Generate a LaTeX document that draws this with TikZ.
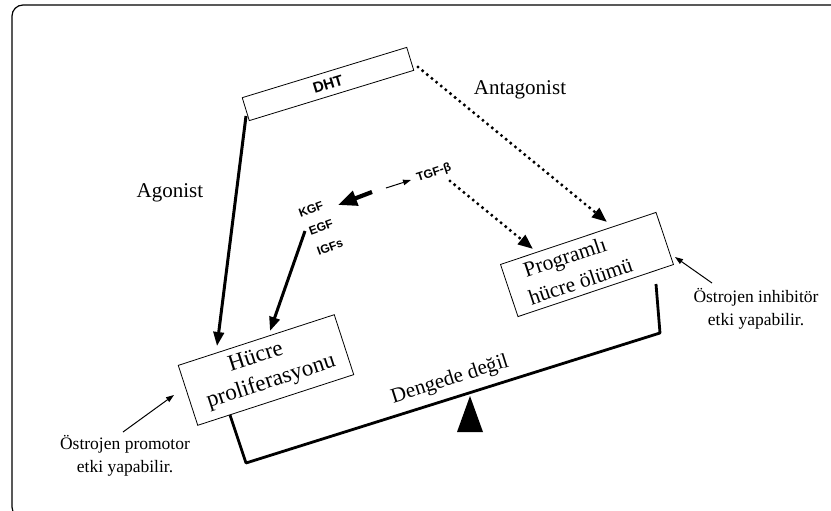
\documentclass[tikz,border=0pt]{standalone}
\usepackage{fontspec}
\setmainfont{Liberation Serif}
\newfontfamily\sansf{Liberation Sans}
\usetikzlibrary{arrows.meta}
\begin{document}
\begin{tikzpicture}[x=1pt,y=-1pt,
  box/.style={draw, line width=0.8pt, inner sep=0pt},
  bigarrow/.style={line width=3pt, -{Triangle[length=14pt,width=10.5pt]}},
  kgfarrow/.style={line width=4.2pt, -{Triangle[length=19pt,width=15pt]}},
  thinarrow/.style={line width=1pt, -{Triangle[length=8pt,width=5.5pt]}},
  dotarrow/.style={line width=3.4pt, line cap=round, dash pattern=on 0pt off 6pt, -{Triangle[length=15pt,width=11.5pt]}},
  lbl/.style={font=\fontsize{21}{24}\selectfont, align=center, inner sep=0pt},
  note/.style={font=\fontsize{17.5}{23}\selectfont, align=center, inner sep=0pt},
  sl/.style={font=\sansf\bfseries\fontsize{12}{12}\selectfont, inner sep=0pt},
]
\useasboundingbox (0,0) rectangle (831,511);
\begin{scope}
  \clip (0,0) rectangle (831,511);
  \draw[line width=1.2pt, rounded corners=11pt] (12,5) rectangle (870,518);
\end{scope}

% boxes
\node[box, minimum width=172pt, minimum height=24pt, rotate=17,
      font=\sansf\bfseries\fontsize{15}{15}\selectfont] (dht) at (328,84) {DHT};
\node[box, minimum width=164pt, minimum height=55pt, rotate=18.5] (pho) at (587,264.5) {};
\node[font=\fontsize{21.5}{28}\selectfont, align=center, inner sep=0pt, rotate=18.5] (photxt) at (576,268) {Programlı\hspace*{14pt}\\hücre ölümü};
\node[box, minimum width=164pt, minimum height=63pt, rotate=18] (hp) at (266,370) {};
\node[font=\fontsize{23}{28}\selectfont, align=center, inner sep=0pt, rotate=18] (hptxt) at (267,369) {Hücre\hspace*{14pt}\\proliferasyonu};

% labels
\node[lbl] (antag) at (520,90) {Antagonist};
\node[lbl] (agon) at (170,193) {Agonist};
\node[note] (ep) at (125,456) {Östrojen promotor\\etki yapabilir.};
\node[note] (ei) at (756,309) {Östrojen inhibitör\\etki yapabilir.};
\node[sl, rotate=20] (kgf) at (311,209) {KGF};
\node[sl, rotate=20] (egf) at (321,227) {EGF};
\node[sl, rotate=20] (igf) at (330,247) {IGFs};
\node[sl, rotate=18] (tgf) at (434,173) {TGF-β};
\node[lbl, rotate=17.5] (dd) at (450,380) {Dengede değil};

% coordinates
\coordinate (a1s) at (246,116);
\coordinate (a1e) at (217,346);
\coordinate (a2s) at (305,231);
\coordinate (a2e) at (270,331);
\coordinate (a3s) at (372,192);
\coordinate (a3e) at (338,205);
\coordinate (a4s) at (386,188);
\coordinate (a4e) at (411,180);
\coordinate (d1s) at (450,181);
\coordinate (d1e) at (533,249);
\coordinate (d2s) at (418,67);
\coordinate (d2e) at (607,222);
\coordinate (p1s) at (123,432);
\coordinate (p1e) at (174,395);
\coordinate (i1s) at (712,283);
\coordinate (i1e) at (675,257);
\coordinate (hpb) at (230,415);
\coordinate (bl) at (246,463);
\coordinate (br) at (660,333);
\coordinate (phb) at (656,284);

% arrows
\draw[bigarrow] (a1s) -- (a1e);
\draw[bigarrow] (a2s) -- (a2e);
\draw[kgfarrow] (a3s) -- (a3e);
\draw[thinarrow] (a4s) -- (a4e);
\draw[dotarrow] (d1s) -- (d1e);
\draw[dotarrow] (d2s) -- (d2e);
\draw[thinarrow] (p1s) -- (p1e);
\draw[thinarrow] (i1s) -- (i1e);

% balance
\draw[line width=2.8pt, line join=round] (hpb) -- (bl) -- (br) -- (phb);
\fill (470,396) -- (457,432) -- (483,432) -- cycle;
\end{tikzpicture}
\end{document}
